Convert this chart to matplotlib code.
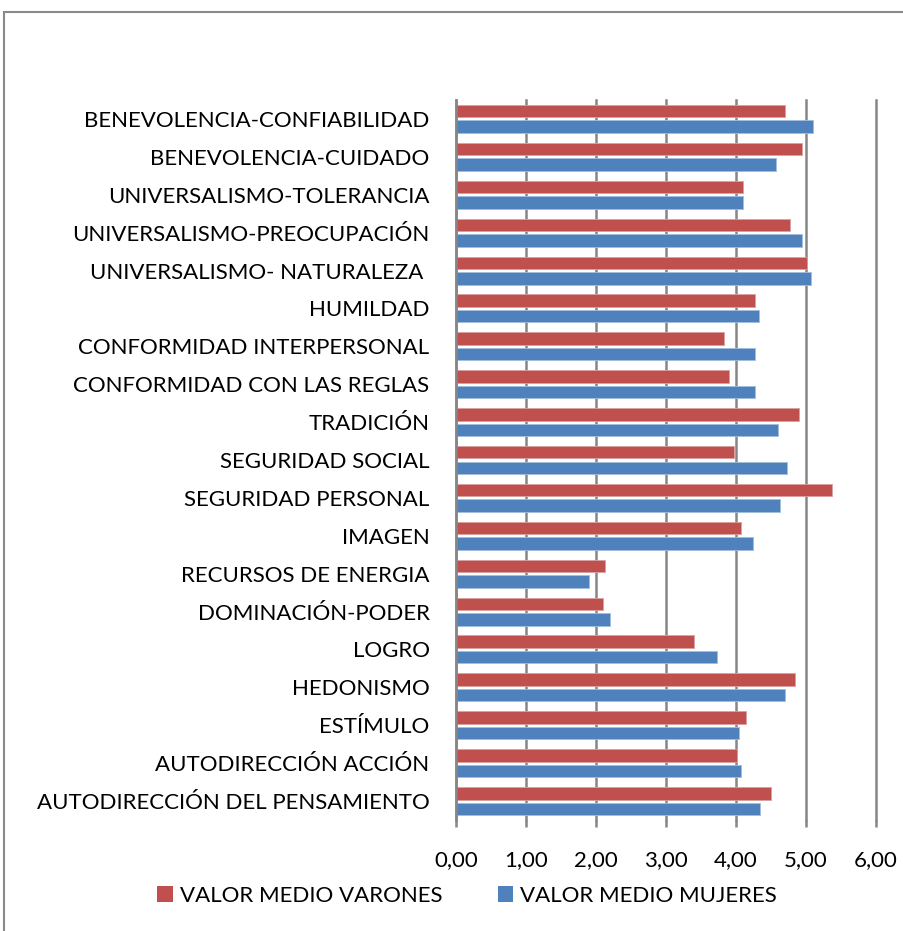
import numpy as np
import matplotlib.pyplot as plt
from matplotlib.patches import Patch, Rectangle

plt.rcParams['font.family'] = ['Lato', 'DejaVu Sans']

# categories, top to bottom as in the chart
categorias = [
    "BENEVOLENCIA-CONFIABILIDAD",
    "BENEVOLENCIA-CUIDADO",
    "UNIVERSALISMO-TOLERANCIA",
    "UNIVERSALISMO-PREOCUPACIÓN",
    "UNIVERSALISMO- NATURALEZA ",
    "HUMILDAD",
    "CONFORMIDAD INTERPERSONAL",
    "CONFORMIDAD CON LAS REGLAS",
    "TRADICIÓN",
    "SEGURIDAD SOCIAL",
    "SEGURIDAD PERSONAL",
    "IMAGEN",
    "RECURSOS DE ENERGIA",
    "DOMINACIÓN-PODER",
    "LOGRO",
    "HEDONISMO",
    "ESTÍMULO",
    "AUTODIRECCIÓN ACCIÓN",
    "AUTODIRECCIÓN DEL PENSAMIENTO",
]
varones = [4.70, 4.94, 4.10, 4.77, 5.01, 4.27, 3.83, 3.90, 4.90, 3.97,
           5.37, 4.07, 2.13, 2.10, 3.40, 4.84, 4.14, 4.01, 4.50]
mujeres = [5.10, 4.57, 4.10, 4.94, 5.07, 4.33, 4.27, 4.27, 4.60, 4.73,
           4.63, 4.24, 1.90, 2.20, 3.73, 4.70, 4.04, 4.07, 4.34]
ticks = [0, 1, 2, 3, 4, 5, 6]
tick_labels = ["0,00", "1,00", "2,00", "3,00", "4,00", "5,00", "6,00"]

c_var = "#C0504D"
c_muj = "#4F81BD"
grid_c = "#868686"
txt_c = "#000000"
fs = 16

fig = plt.figure(figsize=(9.04, 9.31), dpi=100)

# outer chart frame
fig.patches.append(Rectangle((4 / 904, -0.1), 1.2, 1 - 12 / 931 + 0.1,
                             transform=fig.transFigure, fill=False,
                             edgecolor="#8A8A8A", linewidth=1.5))

ax = fig.add_axes([456 / 904, 1 - 820 / 931, 420 / 904, 720 / 931])

y = np.arange(len(categorias))
h = 0.33
ax.barh(y - 0.205, varones, height=h, color=c_var, edgecolor="#D9A09E", linewidth=0.6, zorder=3)
ax.barh(y + 0.205, mujeres, height=h, color=c_muj, edgecolor="#A3BEDD", linewidth=0.6, zorder=3)

ax.set_ylim(len(categorias) - 0.5, -0.5)
ax.set_xlim(0, 6)
ax.set_yticks(y)
ax.set_yticklabels(categorias, fontsize=fs, color=txt_c)
ax.tick_params(axis="y", length=0, pad=19)
ax.set_xticks(ticks)
ax.set_xticklabels(tick_labels, fontsize=fs, color=txt_c)
ax.tick_params(axis="x", length=5, width=1.8, color=grid_c, pad=17)

ax.grid(axis="x", color=grid_c, linewidth=1.8, zorder=0)
for gl in ax.get_xgridlines():
    gl.set_clip_on(False)
for s in ["top", "right", "bottom"]:
    ax.spines[s].set_visible(False)
ax.spines["left"].set_color(grid_c)
ax.spines["left"].set_linewidth(1.8)
ax.spines["left"].set_zorder(4)

handles = [Patch(facecolor=c_var, label="VALOR MEDIO VARONES"),
           Patch(facecolor=c_muj, label="VALOR MEDIO MUJERES")]
fig.legend(handles=handles, loc="center", bbox_to_anchor=(467 / 904, 1 - 896 / 931),
           ncol=2, frameon=False, fontsize=fs, handlelength=0.7, handleheight=0.7,
           handletextpad=0.3, columnspacing=2.5, labelcolor=txt_c)

fig.savefig("out.png", dpi=100)
